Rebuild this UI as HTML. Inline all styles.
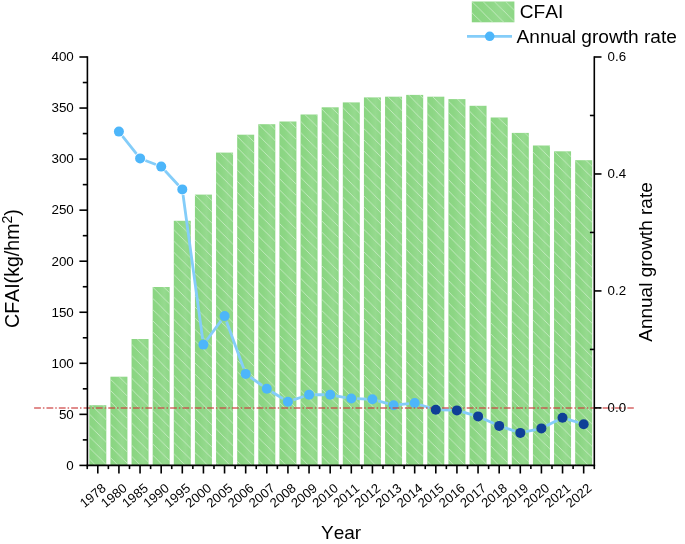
<!DOCTYPE html>
<html><head><meta charset="utf-8"><title>CFAI chart</title>
<style>
html,body{margin:0;padding:0;background:#fff;}
svg{display:block;will-change:transform;}
text{font-family:"Liberation Sans",sans-serif;fill:#000;font-kerning:none;font-variant-ligatures:none;}
</style></head><body>
<svg width="685" height="544" viewBox="0 0 685 544">
<defs>
<pattern id="h" patternUnits="userSpaceOnUse" width="11.2" height="11.2">
<path d="M-1,-1 L12.2,12.2 M-1,10.2 L1,12.2 M10.2,-1 L12.2,1" stroke="#cdeec9" stroke-width="0.8" fill="none"/>
</pattern>
<linearGradient id="g" x1="0" y1="0" x2="1" y2="0">
<stop offset="0" stop-color="#8ad582"/><stop offset="0.3" stop-color="#8cd684"/><stop offset="0.68" stop-color="#96da8f"/><stop offset="1" stop-color="#8dd785"/>
</linearGradient>
</defs>
<rect width="685" height="544" fill="#fff"/>

<g>
<rect x="89.30" y="405.2" width="17.0" height="60.2" fill="url(#g)"/>
<rect x="89.30" y="405.2" width="17.0" height="60.2" fill="url(#h)"/>
<rect x="110.42" y="376.7" width="17.0" height="88.7" fill="url(#g)"/>
<rect x="110.42" y="376.7" width="17.0" height="88.7" fill="url(#h)"/>
<rect x="131.55" y="339.0" width="17.0" height="126.4" fill="url(#g)"/>
<rect x="131.55" y="339.0" width="17.0" height="126.4" fill="url(#h)"/>
<rect x="152.68" y="287.0" width="17.0" height="178.4" fill="url(#g)"/>
<rect x="152.68" y="287.0" width="17.0" height="178.4" fill="url(#h)"/>
<rect x="173.80" y="220.8" width="17.0" height="244.6" fill="url(#g)"/>
<rect x="173.80" y="220.8" width="17.0" height="244.6" fill="url(#h)"/>
<rect x="194.93" y="194.6" width="17.0" height="270.8" fill="url(#g)"/>
<rect x="194.93" y="194.6" width="17.0" height="270.8" fill="url(#h)"/>
<rect x="216.05" y="152.6" width="17.0" height="312.8" fill="url(#g)"/>
<rect x="216.05" y="152.6" width="17.0" height="312.8" fill="url(#h)"/>
<rect x="237.18" y="134.7" width="17.0" height="330.7" fill="url(#g)"/>
<rect x="237.18" y="134.7" width="17.0" height="330.7" fill="url(#h)"/>
<rect x="258.30" y="124.2" width="17.0" height="341.2" fill="url(#g)"/>
<rect x="258.30" y="124.2" width="17.0" height="341.2" fill="url(#h)"/>
<rect x="279.43" y="121.5" width="17.0" height="343.9" fill="url(#g)"/>
<rect x="279.43" y="121.5" width="17.0" height="343.9" fill="url(#h)"/>
<rect x="300.55" y="114.5" width="17.0" height="350.9" fill="url(#g)"/>
<rect x="300.55" y="114.5" width="17.0" height="350.9" fill="url(#h)"/>
<rect x="321.68" y="107.3" width="17.0" height="358.1" fill="url(#g)"/>
<rect x="321.68" y="107.3" width="17.0" height="358.1" fill="url(#h)"/>
<rect x="342.80" y="102.4" width="17.0" height="363.0" fill="url(#g)"/>
<rect x="342.80" y="102.4" width="17.0" height="363.0" fill="url(#h)"/>
<rect x="363.93" y="97.4" width="17.0" height="368.0" fill="url(#g)"/>
<rect x="363.93" y="97.4" width="17.0" height="368.0" fill="url(#h)"/>
<rect x="385.05" y="96.7" width="17.0" height="368.7" fill="url(#g)"/>
<rect x="385.05" y="96.7" width="17.0" height="368.7" fill="url(#h)"/>
<rect x="406.18" y="94.9" width="17.0" height="370.5" fill="url(#g)"/>
<rect x="406.18" y="94.9" width="17.0" height="370.5" fill="url(#h)"/>
<rect x="427.30" y="96.7" width="17.0" height="368.7" fill="url(#g)"/>
<rect x="427.30" y="96.7" width="17.0" height="368.7" fill="url(#h)"/>
<rect x="448.43" y="99.1" width="17.0" height="366.3" fill="url(#g)"/>
<rect x="448.43" y="99.1" width="17.0" height="366.3" fill="url(#h)"/>
<rect x="469.55" y="105.8" width="17.0" height="359.6" fill="url(#g)"/>
<rect x="469.55" y="105.8" width="17.0" height="359.6" fill="url(#h)"/>
<rect x="490.68" y="117.5" width="17.0" height="347.9" fill="url(#g)"/>
<rect x="490.68" y="117.5" width="17.0" height="347.9" fill="url(#h)"/>
<rect x="511.80" y="132.9" width="17.0" height="332.5" fill="url(#g)"/>
<rect x="511.80" y="132.9" width="17.0" height="332.5" fill="url(#h)"/>
<rect x="532.92" y="145.5" width="17.0" height="319.9" fill="url(#g)"/>
<rect x="532.92" y="145.5" width="17.0" height="319.9" fill="url(#h)"/>
<rect x="554.05" y="151.3" width="17.0" height="314.1" fill="url(#g)"/>
<rect x="554.05" y="151.3" width="17.0" height="314.1" fill="url(#h)"/>
<rect x="575.17" y="160.2" width="17.0" height="305.2" fill="url(#g)"/>
<rect x="575.17" y="160.2" width="17.0" height="305.2" fill="url(#h)"/>
</g>
<path d="M122.45,136.08 L136.52,153.92 M145.36,160.46 L155.86,164.54 M165.05,170.78 L178.43,185.22 M183.07,195.05 L202.66,338.95 M206.82,340.02 L221.16,320.68 M226.51,321.45 L243.72,368.55 M250.33,377.19 L262.14,385.51 M271.66,391.77 L283.06,398.73 M293.34,399.91 L303.64,396.49 M314.75,394.73 L324.48,394.77 M335.79,395.78 L345.69,397.52 M357.00,398.72 L366.73,399.08 M377.91,400.83 L388.06,403.67 M399.22,404.61 L409.01,403.59 M420.11,404.72 L430.37,407.98 M441.50,409.89 L451.23,410.21 M462.41,411.96 L472.57,414.84 M483.25,418.74 L493.98,423.56 M504.59,427.69 L514.89,431.11 M525.87,431.71 L535.85,429.59 M546.51,425.82 L557.47,420.28 M568.00,419.38 L578.23,422.52" fill="none" stroke="#84cdf9" stroke-width="2.8"/>
<circle cx="118.9" cy="131.6" r="5" fill="#4db6fa"/>
<circle cx="140.1" cy="158.4" r="5" fill="#4db6fa"/>
<circle cx="161.2" cy="166.6" r="5" fill="#4db6fa"/>
<circle cx="182.3" cy="189.4" r="5" fill="#4db6fa"/>
<circle cx="203.4" cy="344.6" r="5" fill="#4db6fa"/>
<circle cx="224.6" cy="316.1" r="5" fill="#4db6fa"/>
<circle cx="245.7" cy="373.9" r="5" fill="#4db6fa"/>
<circle cx="266.8" cy="388.8" r="5" fill="#4db6fa"/>
<circle cx="287.9" cy="401.7" r="5" fill="#4db6fa"/>
<circle cx="309.1" cy="394.7" r="5" fill="#4db6fa"/>
<circle cx="330.2" cy="394.8" r="5" fill="#4db6fa"/>
<circle cx="351.3" cy="398.5" r="5" fill="#4db6fa"/>
<circle cx="372.4" cy="399.3" r="5" fill="#4db6fa"/>
<circle cx="393.6" cy="405.2" r="5" fill="#4db6fa"/>
<circle cx="414.7" cy="403.0" r="5" fill="#4db6fa"/>
<line x1="34.1" y1="407.9" x2="633.8" y2="407.9" stroke="#cd4040" stroke-opacity="0.8" stroke-width="1.5" stroke-dasharray="6.8 2 1.5 2.06"/>
<circle cx="435.8" cy="409.7" r="5" fill="#0f3f97"/>
<circle cx="456.9" cy="410.4" r="5" fill="#0f3f97"/>
<circle cx="478.1" cy="416.4" r="5" fill="#0f3f97"/>
<circle cx="499.2" cy="425.9" r="5" fill="#0f3f97"/>
<circle cx="520.3" cy="432.9" r="5" fill="#0f3f97"/>
<circle cx="541.4" cy="428.4" r="5" fill="#0f3f97"/>
<circle cx="562.5" cy="417.7" r="5" fill="#0f3f97"/>
<circle cx="583.7" cy="424.2" r="5" fill="#0f3f97"/>
<g stroke="#000" stroke-width="1.6" fill="none" stroke-linecap="butt">
<path d="M87.4,56.2 V466.2"/>
<path d="M594.3,56.2 V466.2"/>
<path d="M86.60000000000001,465.4 H595.0999999999999"/>
<path d="M79.4,465.40 H87.4"/>
<path d="M82.80000000000001,439.88 H87.4"/>
<path d="M79.4,414.35 H87.4"/>
<path d="M82.80000000000001,388.82 H87.4"/>
<path d="M79.4,363.30 H87.4"/>
<path d="M82.80000000000001,337.77 H87.4"/>
<path d="M79.4,312.25 H87.4"/>
<path d="M82.80000000000001,286.73 H87.4"/>
<path d="M79.4,261.20 H87.4"/>
<path d="M82.80000000000001,235.67 H87.4"/>
<path d="M79.4,210.15 H87.4"/>
<path d="M82.80000000000001,184.62 H87.4"/>
<path d="M79.4,159.10 H87.4"/>
<path d="M82.80000000000001,133.58 H87.4"/>
<path d="M79.4,108.05 H87.4"/>
<path d="M82.80000000000001,82.53 H87.4"/>
<path d="M79.4,57.00 H87.4"/>
<path d="M594.3,407.90 H601.5"/>
<path d="M589.9,349.42 H594.3"/>
<path d="M594.3,290.93 H601.5"/>
<path d="M589.9,232.45 H594.3"/>
<path d="M594.3,173.97 H601.5"/>
<path d="M589.9,115.48 H594.3"/>
<path d="M594.3,57.00 H601.5"/>
<path d="M97.80,465.4 V473.5"/>
<path d="M87.24,465.4 V469.09999999999997"/>
<path d="M118.92,465.4 V473.5"/>
<path d="M108.36,465.4 V469.09999999999997"/>
<path d="M140.05,465.4 V473.5"/>
<path d="M129.49,465.4 V469.09999999999997"/>
<path d="M161.18,465.4 V473.5"/>
<path d="M150.61,465.4 V469.09999999999997"/>
<path d="M182.30,465.4 V473.5"/>
<path d="M171.74,465.4 V469.09999999999997"/>
<path d="M203.43,465.4 V473.5"/>
<path d="M192.86,465.4 V469.09999999999997"/>
<path d="M224.55,465.4 V473.5"/>
<path d="M213.99,465.4 V469.09999999999997"/>
<path d="M245.68,465.4 V473.5"/>
<path d="M235.11,465.4 V469.09999999999997"/>
<path d="M266.80,465.4 V473.5"/>
<path d="M256.24,465.4 V469.09999999999997"/>
<path d="M287.93,465.4 V473.5"/>
<path d="M277.36,465.4 V469.09999999999997"/>
<path d="M309.05,465.4 V473.5"/>
<path d="M298.49,465.4 V469.09999999999997"/>
<path d="M330.18,465.4 V473.5"/>
<path d="M319.61,465.4 V469.09999999999997"/>
<path d="M351.30,465.4 V473.5"/>
<path d="M340.74,465.4 V469.09999999999997"/>
<path d="M372.43,465.4 V473.5"/>
<path d="M361.86,465.4 V469.09999999999997"/>
<path d="M393.55,465.4 V473.5"/>
<path d="M382.99,465.4 V469.09999999999997"/>
<path d="M414.68,465.4 V473.5"/>
<path d="M404.11,465.4 V469.09999999999997"/>
<path d="M435.80,465.4 V473.5"/>
<path d="M425.24,465.4 V469.09999999999997"/>
<path d="M456.93,465.4 V473.5"/>
<path d="M446.36,465.4 V469.09999999999997"/>
<path d="M478.05,465.4 V473.5"/>
<path d="M467.49,465.4 V469.09999999999997"/>
<path d="M499.18,465.4 V473.5"/>
<path d="M488.61,465.4 V469.09999999999997"/>
<path d="M520.30,465.4 V473.5"/>
<path d="M509.74,465.4 V469.09999999999997"/>
<path d="M541.42,465.4 V473.5"/>
<path d="M530.86,465.4 V469.09999999999997"/>
<path d="M562.55,465.4 V473.5"/>
<path d="M551.99,465.4 V469.09999999999997"/>
<path d="M583.67,465.4 V473.5"/>
<path d="M573.11,465.4 V469.09999999999997"/>
<path d="M594.3,465.4 V469.09999999999997"/>
</g>
<text x="73.8" y="469.7" font-size="13.4" text-anchor="end">0</text>
<text x="73.8" y="418.6" font-size="13.4" text-anchor="end">50</text>
<text x="73.8" y="367.6" font-size="13.4" text-anchor="end">100</text>
<text x="73.8" y="316.6" font-size="13.4" text-anchor="end">150</text>
<text x="73.8" y="265.5" font-size="13.4" text-anchor="end">200</text>
<text x="73.8" y="214.4" font-size="13.4" text-anchor="end">250</text>
<text x="73.8" y="163.4" font-size="13.4" text-anchor="end">300</text>
<text x="73.8" y="112.4" font-size="13.4" text-anchor="end">350</text>
<text x="73.8" y="61.3" font-size="13.4" text-anchor="end">400</text>
<text x="607.6" y="411.9" font-size="13.3">0.0</text>
<text x="607.6" y="294.9" font-size="13.3">0.2</text>
<text x="607.6" y="178.0" font-size="13.3">0.4</text>
<text x="607.6" y="61.0" font-size="13.3">0.6</text>
<text transform="translate(106.8,489.6) rotate(-40)" font-size="13.1" text-anchor="end">1978</text>
<text transform="translate(127.9,489.6) rotate(-40)" font-size="13.1" text-anchor="end">1980</text>
<text transform="translate(149.1,489.6) rotate(-40)" font-size="13.1" text-anchor="end">1985</text>
<text transform="translate(170.2,489.6) rotate(-40)" font-size="13.1" text-anchor="end">1990</text>
<text transform="translate(191.3,489.6) rotate(-40)" font-size="13.1" text-anchor="end">1995</text>
<text transform="translate(212.4,489.6) rotate(-40)" font-size="13.1" text-anchor="end">2000</text>
<text transform="translate(233.6,489.6) rotate(-40)" font-size="13.1" text-anchor="end">2005</text>
<text transform="translate(254.7,489.6) rotate(-40)" font-size="13.1" text-anchor="end">2006</text>
<text transform="translate(275.8,489.6) rotate(-40)" font-size="13.1" text-anchor="end">2007</text>
<text transform="translate(296.9,489.6) rotate(-40)" font-size="13.1" text-anchor="end">2008</text>
<text transform="translate(318.1,489.6) rotate(-40)" font-size="13.1" text-anchor="end">2009</text>
<text transform="translate(339.2,489.6) rotate(-40)" font-size="13.1" text-anchor="end">2010</text>
<text transform="translate(360.3,489.6) rotate(-40)" font-size="13.1" text-anchor="end">2011</text>
<text transform="translate(381.4,489.6) rotate(-40)" font-size="13.1" text-anchor="end">2012</text>
<text transform="translate(402.6,489.6) rotate(-40)" font-size="13.1" text-anchor="end">2013</text>
<text transform="translate(423.7,489.6) rotate(-40)" font-size="13.1" text-anchor="end">2014</text>
<text transform="translate(444.8,489.6) rotate(-40)" font-size="13.1" text-anchor="end">2015</text>
<text transform="translate(465.9,489.6) rotate(-40)" font-size="13.1" text-anchor="end">2016</text>
<text transform="translate(487.1,489.6) rotate(-40)" font-size="13.1" text-anchor="end">2017</text>
<text transform="translate(508.2,489.6) rotate(-40)" font-size="13.1" text-anchor="end">2018</text>
<text transform="translate(529.3,489.6) rotate(-40)" font-size="13.1" text-anchor="end">2019</text>
<text transform="translate(550.4,489.6) rotate(-40)" font-size="13.1" text-anchor="end">2020</text>
<text transform="translate(571.5,489.6) rotate(-40)" font-size="13.1" text-anchor="end">2021</text>
<text transform="translate(592.7,489.6) rotate(-40)" font-size="13.1" text-anchor="end">2022</text>
<text x="341.1" y="539" font-size="19" text-anchor="middle">Year</text>
<text transform="translate(18.8,268.6) rotate(-90)" font-size="19.6" text-anchor="middle">CFAI(kg/hm<tspan font-size="14" dy="-6.6">2</tspan><tspan dy="6.6">)</tspan></text>
<text transform="translate(651.5,262) rotate(-90)" font-size="19" text-anchor="middle">Annual growth rate</text>
<rect x="471.8" y="1.5" width="42.6" height="20.8" fill="url(#g)"/>
<rect x="471.8" y="1.5" width="42.6" height="20.8" fill="url(#h)"/>
<text x="519.8" y="17.9" font-size="19.1">CFAI</text>
<line x1="467" y1="36.3" x2="512" y2="36.3" stroke="#84cdf9" stroke-width="2.7"/>
<circle cx="489.7" cy="36.3" r="4.8" fill="#4db6fa"/>
<text x="516.6" y="42.6" font-size="19.1">Annual growth rate</text>
</svg></body></html>
